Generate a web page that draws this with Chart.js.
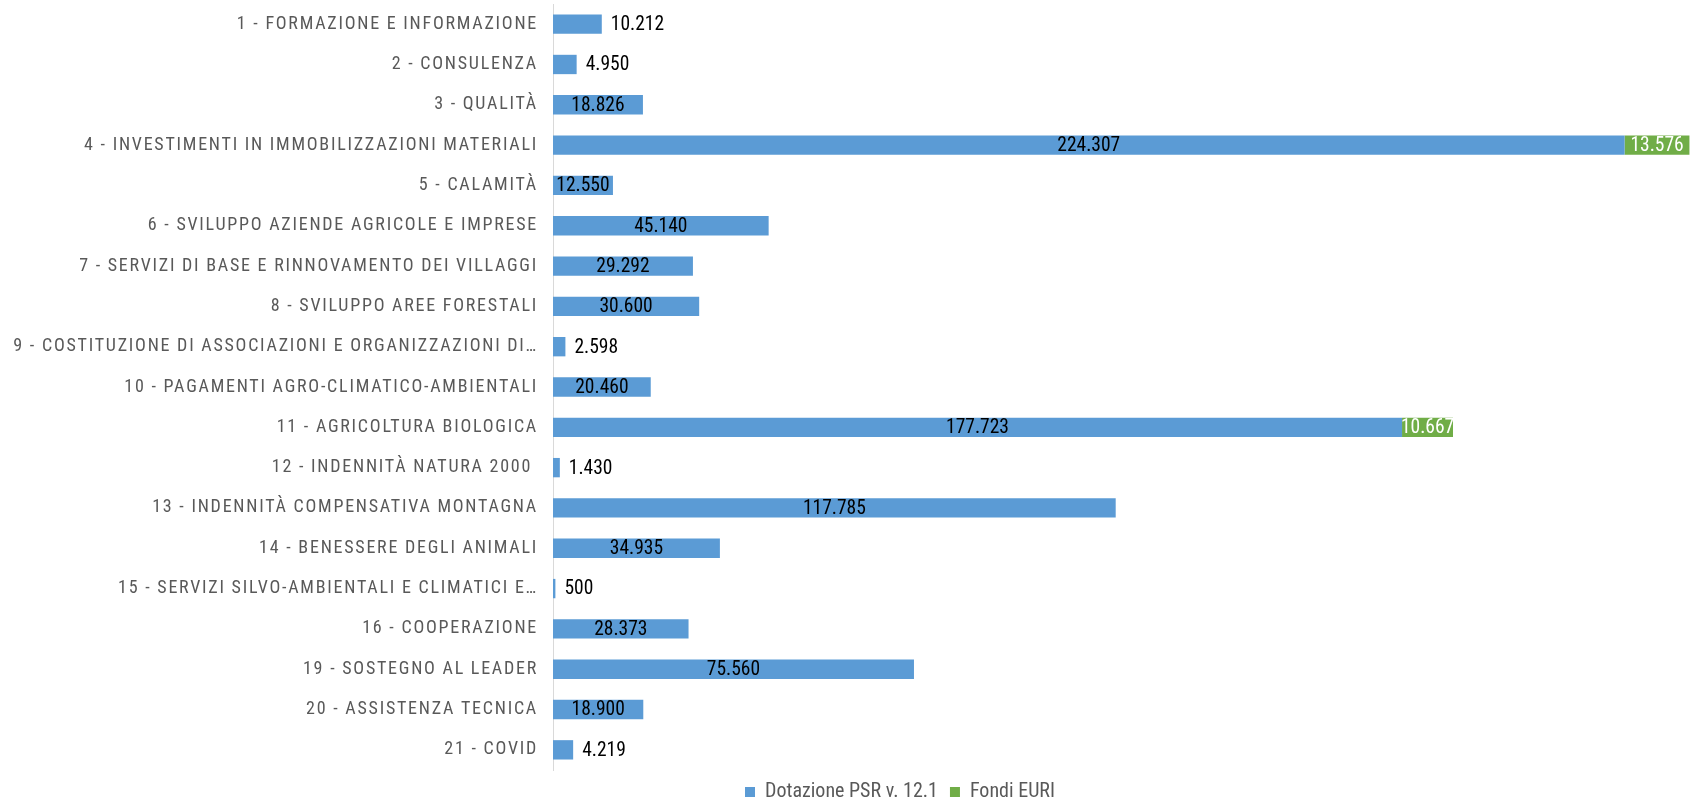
<!DOCTYPE html>
<html>
<head>
<meta charset="utf-8">
<script src="https://cdn.jsdelivr.net/npm/chart.js@4/dist/chart.umd.min.js"></script>
<style>
  html, body { margin: 0; padding: 0; background: #fff; }
  #wrap { width: 1690px; height: 798px; }
</style>
</head>
<body>
<div id="wrap"><canvas id="chart_misure"></canvas></div>
<script>
const categories = [
  '1 - FORMAZIONE E INFORMAZIONE',
  '2 - CONSULENZA',
  '3 - QUALITÀ',
  '4 - INVESTIMENTI IN IMMOBILIZZAZIONI MATERIALI',
  '5 - CALAMITÀ',
  '6 - SVILUPPO AZIENDE AGRICOLE E IMPRESE',
  '7 - SERVIZI DI BASE E RINNOVAMENTO DEI VILLAGGI',
  '8 - SVILUPPO AREE FORESTALI',
  '9 - COSTITUZIONE DI ASSOCIAZIONI E ORGANIZZAZIONI DI…',
  '10 - PAGAMENTI AGRO-CLIMATICO-AMBIENTALI',
  '11 - AGRICOLTURA BIOLOGICA',
  '12 - INDENNITÀ NATURA 2000 ',
  '13 - INDENNITÀ COMPENSATIVA MONTAGNA',
  '14 - BENESSERE DEGLI ANIMALI',
  '15 - SERVIZI SILVO-AMBIENTALI E CLIMATICI E…',
  '16 - COOPERAZIONE',
  '19 - SOSTEGNO AL LEADER',
  '20 - ASSISTENZA TECNICA',
  '21 - COVID'
];
const dotazionePSR = [10212, 4950, 18826, 224307, 12550, 45140, 29292, 30600, 2598, 20460,
  177723, 1430, 117785, 34935, 500, 28373, 75560, 18900, 4219];
const fondiEURI = [null, null, null, 13576, null, null, null, null, null, null,
  10667, null, null, null, null, null, null, null, null];

const narrow = "'Liberation Sans Narrow', 'Roboto Condensed', Roboto, sans-serif";

function fmt(v) {
  return String(v).replace(/\B(?=(\d{3})+(?!\d))/g, '.');
}

// etichette categorie (spaziate) + etichette valori
const labelsPlugin = {
  id: 'labelsPlugin',
  afterDraw(chart) {
    const ctx = chart.ctx;
    const yScale = chart.scales.y;
    const left = chart.chartArea.left;

    ctx.save();
    ctx.font = '18px ' + narrow;
    ctx.fillStyle = '#595959';
    ctx.textAlign = 'right';
    ctx.textBaseline = 'middle';
    ctx.letterSpacing = '1.75px';
    categories.forEach((c, i) => {
      ctx.fillText(c, left - 15, yScale.getPixelForTick(i));
    });
    ctx.restore();

    ctx.save();
    ctx.font = '19.5px ' + narrow;
    ctx.textBaseline = 'middle';
    chart.getDatasetMeta(0).data.forEach((bar, i) => {
      const txt = fmt(dotazionePSR[i]);
      const w = ctx.measureText(txt).width;
      const barW = bar.x - bar.base;
      ctx.fillStyle = '#000';
      if (w + 4 < barW) {
        ctx.textAlign = 'center';
        ctx.fillText(txt, (bar.x + bar.base) / 2, bar.y + 1);
      } else {
        ctx.textAlign = 'left';
        ctx.fillText(txt, bar.x + 9, bar.y + 1);
      }
    });
    chart.getDatasetMeta(1).data.forEach((bar, i) => {
      if (fondiEURI[i] == null) return;
      ctx.fillStyle = '#fff';
      ctx.textAlign = 'center';
      ctx.fillText(fmt(fondiEURI[i]), (bar.x + bar.base) / 2, bar.y + 1);
    });
    ctx.restore();
  }
};

const chartData = {
  labels: categories,
  datasets: [
    {
      label: 'Dotazione PSR v. 12.1',
      data: dotazionePSR,
      backgroundColor: '#5B9BD5',
      barPercentage: 0.48,
      categoryPercentage: 1
    },
    {
      label: 'Fondi EURI',
      data: fondiEURI,
      backgroundColor: '#70AD47',
      barPercentage: 0.48,
      categoryPercentage: 1
    }
  ]
};

const chartConfig = {
  type: 'bar',
  data: chartData,
  options: {
    indexAxis: 'y',
    responsive: true,
    maintainAspectRatio: false,
    animation: false,
    layout: { padding: { left: 110, right: 0, top: 4, bottom: -14 } },
    plugins: {
      tooltip: { enabled: false },
      legend: {
        position: 'bottom',
        labels: {
          boxWidth: 10,
          boxHeight: 10,
          padding: 12,
          color: '#595959',
          font: { family: narrow, size: 20 }
        }
      }
    },
    scales: {
      x: {
        stacked: true,
        min: 0,
        max: 238000,
        display: false
      },
      y: {
        stacked: true,
        grid: { display: false },
        border: { display: true, color: '#d9d9d9', width: 1 },
        ticks: { display: false },
        afterFit: s => { s.width = 443; }
      }
    }
  },
  plugins: [labelsPlugin]
};

const chartElement = document.getElementById('chart_misure');
const chart = new Chart(chartElement, chartConfig);
</script>
</body>
</html>
